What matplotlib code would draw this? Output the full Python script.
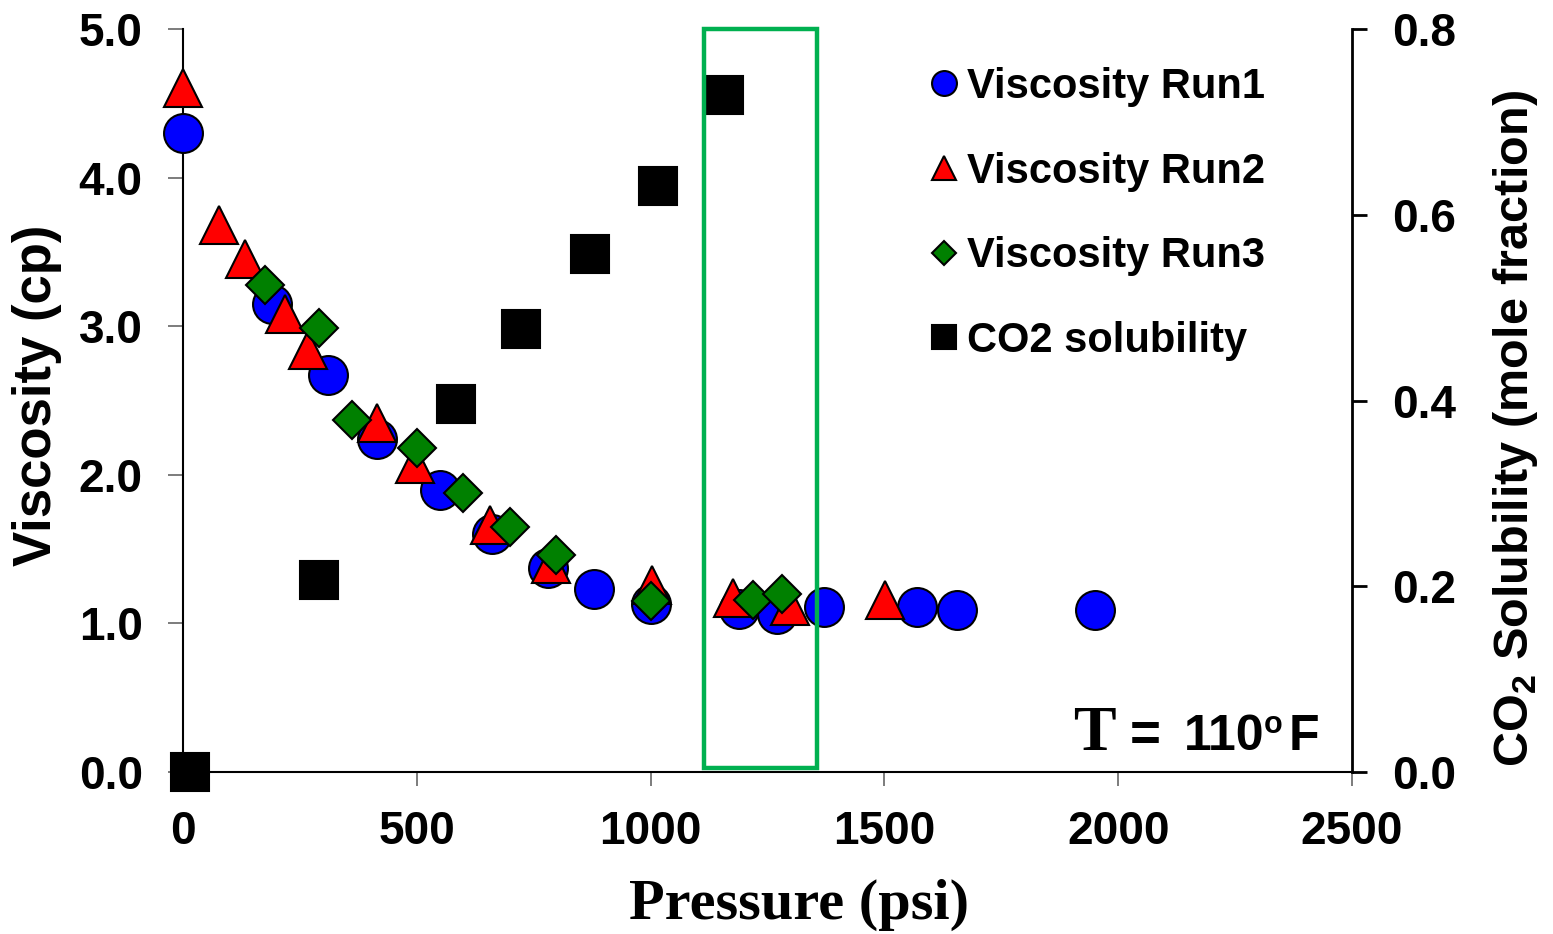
import matplotlib
matplotlib.use("Agg")
import matplotlib.pyplot as plt
from matplotlib.patches import Rectangle

plt.rcParams['font.family'] = ['Liberation Sans', 'DejaVu Sans']
plt.rcParams['mathtext.fontset'] = 'custom'
plt.rcParams['mathtext.rm'] = 'Liberation Sans:bold'
plt.rcParams['mathtext.bf'] = 'Liberation Sans:bold'

# ---------------- data ----------------
run1_p = [0, 190, 310, 415, 550, 660, 780, 880, 1000, 1190, 1270, 1370, 1570, 1655, 1950]
run1_v = [4.30, 3.15, 2.67, 2.24, 1.90, 1.60, 1.37, 1.23, 1.13, 1.10, 1.06, 1.11, 1.11, 1.09, 1.09]

run2_p = [0, 77, 133, 218, 267, 415, 496, 656, 787, 1003, 1176, 1298, 1501]
run2_v = [4.60, 3.68, 3.45, 3.08, 2.84, 2.35, 2.07, 1.66, 1.40, 1.26, 1.17, 1.12, 1.16]

run3_p = [175, 291, 361, 500, 599, 699, 798, 1001, 1219, 1281]
run3_v = [3.28, 2.99, 2.37, 2.18, 1.88, 1.65, 1.46, 1.15, 1.16, 1.20]

co2_p = [15, 291, 584, 723, 870, 1016, 1157]
co2_x = [0.0, 0.207, 0.396, 0.477, 0.558, 0.631, 0.729]

x_ticks = [0, 500, 1000, 1500, 2000, 2500]
y_ticks = [0, 1, 2, 3, 4, 5]
y_tick_labels = ["0.0", "1.0", "2.0", "3.0", "4.0", "5.0"]
y2_ticks = [0.0, 0.2, 0.4, 0.6, 0.8]
y2_tick_labels = ["0.0", "0.2", "0.4", "0.6", "0.8"]

highlight_p = (1114, 1356)
highlight_v = (0.03, 5.0)

labels = ["Viscosity Run1", "Viscosity Run2", "Viscosity Run3", "CO2 solubility"]

# ---------------- figure ----------------
W, H = 1553, 934
fig = plt.figure(figsize=(W / 100, H / 100), dpi=100)
ax = fig.add_axes([183 / W, 1 - 772 / H, (1352 - 183) / W, (772 - 29) / H])
ax2 = ax.twinx()

ax.set_xlim(0, 2500)
ax.set_ylim(0, 5)
ax2.set_ylim(0, 0.8)

mk = dict(linestyle='none', markeredgecolor='black', markeredgewidth=1.5, clip_on=False)
l1, = ax.plot(run1_p, run1_v, marker='o', markersize=28, markerfacecolor='#0000FF', zorder=3, **mk)
l2, = ax.plot(run2_p, run2_v, marker='^', markersize=28, markerfacecolor='#FF0000', zorder=4, **mk)
l3, = ax.plot(run3_p, run3_v, marker='D', markersize=19.5, markerfacecolor='#008000', zorder=5, **mk)
l4, = ax2.plot(co2_p, co2_x, marker='s', markersize=28, markerfacecolor='black', zorder=3, **mk)

# highlight box (drawn on the top axes, in viscosity units converted to its scale)
scale = 0.8 / 5.0
ax2.add_patch(Rectangle((highlight_p[0], highlight_v[0] * scale), highlight_p[1] - highlight_p[0],
                        (highlight_v[1] - highlight_v[0]) * scale, fill=False, edgecolor='#00B050',
                        linewidth=3.2, zorder=10, clip_on=False))

# spines
for a in (ax, ax2):
    a.spines['top'].set_visible(False)
ax.spines['right'].set_visible(False)
ax2.spines['left'].set_visible(False)
ax2.spines['bottom'].set_visible(False)
ax.spines['left'].set_linewidth(1.5)
ax.spines['bottom'].set_linewidth(1.5)
ax2.spines['right'].set_linewidth(2.0)

tick_font = dict(fontsize=33, fontweight='bold')
ax.set_xticks(x_ticks)
ax.set_xticklabels([str(t) for t in x_ticks], **tick_font)
ax.set_yticks(y_ticks)
ax.set_yticklabels(y_tick_labels, **tick_font)
ax2.set_yticks(y2_ticks)
ax2.set_yticklabels(y2_tick_labels, **tick_font)

ax.tick_params(axis='x', direction='out', length=10, width=1.2, color='#666666', pad=17)
ax.tick_params(axis='y', direction='out', length=11, width=1.2, color='#666666', pad=18)
ax2.tick_params(axis='y', direction='out', length=11, width=2.0, color='black', pad=18)

ax.set_xlabel("Pressure (psi)", fontsize=42, fontweight='bold', family='Liberation Serif')
ax.xaxis.set_label_coords(0.527, -0.179)
ax.xaxis.label.set_va('center')

ax.set_ylabel("Viscosity (cp)", fontsize=38, fontweight='bold')
ax.yaxis.set_label_coords(-0.1245, 0.507)
ax.yaxis.label.set_va('center')

ax2.set_ylabel(r"CO$_\mathbf{2}$ Solubility (mole fraction)", fontsize=35, fontweight='bold',
               rotation=90)
ax2.yaxis.set_label_coords(1.1395, 0.462)
ax2.yaxis.label.set_va('center')
ax2.yaxis.label.set_ha('center')

# legend
leg = ax2.legend([l1, l2, l3, l4], labels, loc='upper left',
                 bbox_to_anchor=(934 / W, 1 - 67 / H), bbox_transform=fig.transFigure,
                 frameon=False, markerscale=0.64, handlelength=0.5, handletextpad=0.3,
                 labelspacing=1.07, borderpad=0, borderaxespad=0,
                 prop=dict(size=30, weight='bold'))

# temperature annotation
base = 1 - 750 / H
fig.text(1073 / W, base, "T", fontsize=46, fontweight='bold', family='Liberation Serif', va='baseline')
fig.text(1130 / W, base, "=", fontsize=38, fontweight='bold', va='baseline')
fig.text(1184 / W, base, "110", fontsize=36, fontweight='bold', va='baseline')
fig.text(1264 / W, 1 - 733 / H, "o", fontsize=22, fontweight='bold', va='baseline')
fig.text(1289 / W, base, "F", fontsize=36, fontweight='bold', va='baseline')

fig.savefig("out.png", dpi=100)
